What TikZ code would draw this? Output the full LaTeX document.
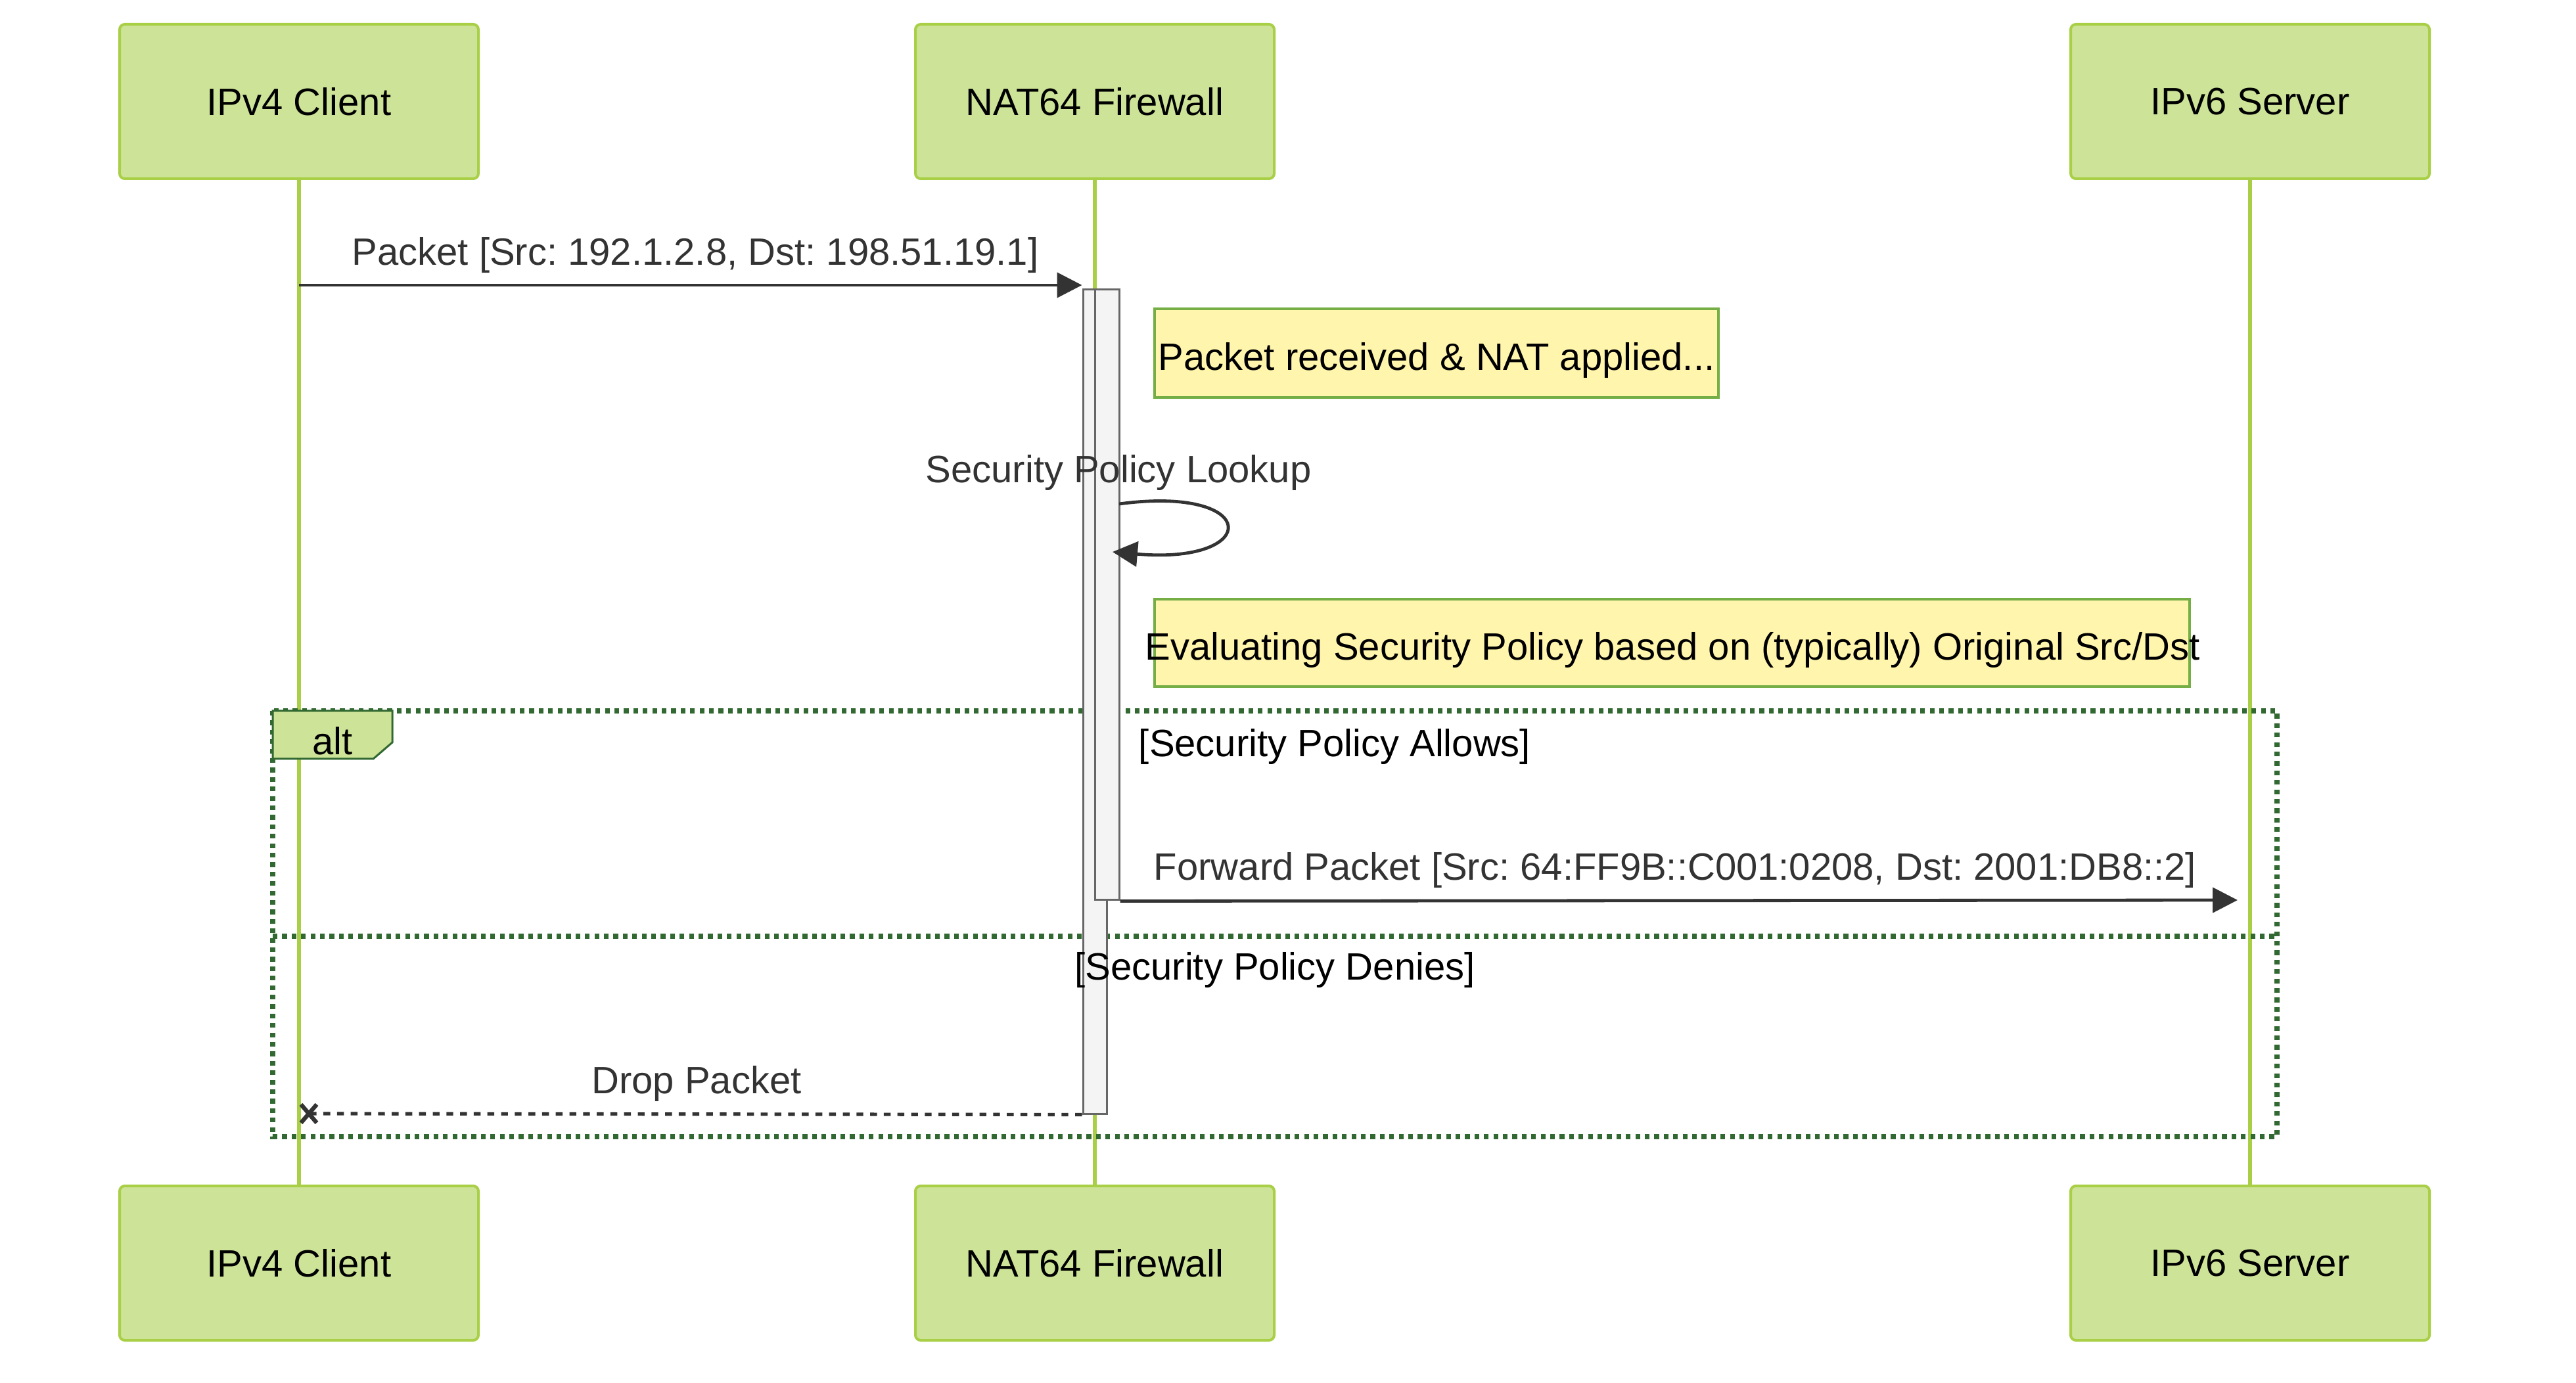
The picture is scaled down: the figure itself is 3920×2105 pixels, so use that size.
\documentclass[tikz,border=0pt]{standalone}
\usepackage{fontspec}
\setmainfont{Liberation Sans}
\frenchspacing
\usetikzlibrary{arrows.meta,calc}
\definecolor{actfill}{HTML}{CDE498}
\definecolor{actline}{HTML}{A8CF45}
\definecolor{framegreen}{HTML}{326932}
\definecolor{notefill}{HTML}{FFF5AD}
\definecolor{noteline}{HTML}{74AE45}
\definecolor{msg}{HTML}{333333}
\definecolor{actvfill}{HTML}{F4F4F4}
\definecolor{actvline}{HTML}{666666}
\tikzset{
  actor/.style={draw=actline, fill=actfill, line width=1pt, rounded corners=2pt,
    minimum width=136.5pt, minimum height=58.75pt, inner sep=0pt,
    font=\fontsize{14.5}{17}\selectfont, text=black},
  lifeline/.style={draw=actline, line width=1.3pt},
  activation/.style={draw=actvline, fill=actvfill, line width=0.75pt, inner sep=0pt},
  notebox/.style={draw=noteline, fill=notefill, line width=0.8pt, inner sep=0pt},
  txt/.style={font=\fontsize{14.5}{17}\selectfont, inner sep=0pt},
  msgline/.style={draw=msg, line width=1.2pt},
  solidarrow/.style={msgline, -{Triangle[length=9.5pt,width=9.5pt]}},
  dottedarrow/.style={msgline, line width=1.3pt, dash pattern=on 2.6pt off 2.6pt},
  altline/.style={draw=framegreen, line width=1.8pt, dash pattern=on 1.8pt off 1.8pt},
}
\begin{document}
\begin{tikzpicture}[x=0.25pt, y=-0.25pt]
\useasboundingbox[fill=white] (0,0) rectangle (3920,2105);

% actors
\node[actor] (c1) at (455,154.5) {IPv4 Client};
\node[actor] (f1) at (1666,154.5) {NAT64 Firewall};
\node[actor] (s1) at (3424,154.5) {IPv6 Server};
\node[actor] (c2) at (455,1922.5) {IPv4 Client};
\node[actor] (f2) at (1666,1922.5) {NAT64 Firewall};
\node[actor] (s2) at (3424,1922.5) {IPv6 Server};

% lifelines
\draw[lifeline] (c1.south) -- (c2.north);
\draw[lifeline] (f1.south) -- (f2.north);
\draw[lifeline] (s1.south) -- (s2.north);

% alt frame
\draw[altline] (415,1082) rectangle (3465,1730);
\draw[altline] (415,1425) -- (3465,1425);
\fill[actfill, draw=framegreen, line width=0.75pt]
  (415,1082) -- (597,1082) -- (597,1130) -- (568,1155) -- (415,1155) -- cycle;
\node[txt, text=black] (alttxt) at (506,1128) {alt};

% activations
\node[activation, minimum width=9pt, minimum height=313.5pt] (actA) at (1666,1068) {};
\node[activation, minimum width=9.25pt, minimum height=232.25pt] (actB) at (1684.5,905.5) {};

% section labels (drawn over the activations)
\node[txt, text=black] (allows) at (2031,1137) {[Security Policy Allows]};
\node[txt, text=black] (denies) at (1940,1477) {[Security Policy Denies]};

% message 1
\coordinate (m1s) at (455,434);
\draw[solidarrow] (m1s) -- (m1s -| actA.west);
\node[txt, text=msg] (m1l) at (1058,389) {Packet [Src: 192.1.2.8, Dst: 198.51.19.1]};

% note 1
\node[notebox, minimum width=214.5pt, minimum height=33.75pt] (n1) at (2186,537.5) {};
\node[txt, text=black] (n1t) at (2186,549) {Packet received \& NAT applied...};

% self message
\node[txt, text=msg] (selfl) at (1702,720) {Security Policy Lookup};
\coordinate (self1) at (1703,767);
\coordinate (self2) at (1693,840);
\draw[solidarrow] (self1) .. controls (1920,738) and (1920,860) .. (self2);

% note 2
\node[notebox, minimum width=393.75pt, minimum height=33.25pt] (n2) at (2544.5,978.5) {};
\node[txt, text=black] (n2t) at (2545,990) {Evaluating Security Policy based on (typically) Original Src/Dst};

% forward
\coordinate (fwdend) at (3405,1370);
\draw[solidarrow] (actB.south east) -- (fwdend);
\node[txt, text=msg] (fwdl) at (2549,1325) {Forward Packet [Src: 64:FF9B::C001:0208, Dst: 2001:DB8::2]};

% drop
\coordinate (dropend) at (470,1695);
\draw[dottedarrow] (actA.south west) -- (dropend);
\draw[draw=msg, line width=1.6pt] ($(dropend)+(-12,-14)$) -- ($(dropend)+(12,14)$)
  ($(dropend)+(-12,14)$) -- ($(dropend)+(12,-14)$);
\node[txt, text=msg] (dropl) at (1060,1650) {Drop Packet};
\end{tikzpicture}
\end{document}
